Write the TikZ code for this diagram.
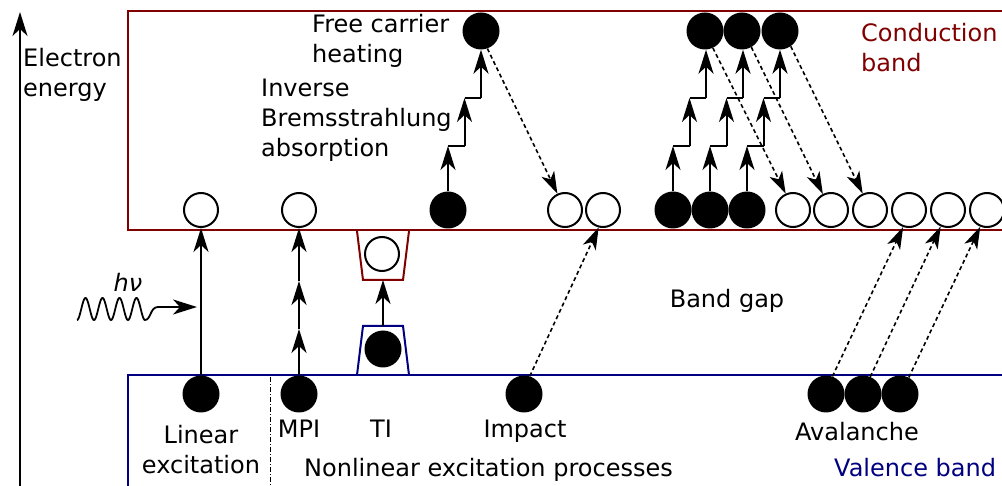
\documentclass[tikz,border=0pt]{standalone}
\usepackage{fontspec}
\setmainfont{DejaVu Sans}
\usetikzlibrary{arrows.meta,calc}
\definecolor{cbred}{RGB}{128,0,0}
\definecolor{vbblue}{RGB}{0,0,128}
\begin{document}
\begin{tikzpicture}[x=1pt,y=-1pt,
  every node/.style={font=\fontsize{24}{30}\selectfont, inner sep=0pt},
  fcirc/.style={circle, fill=black, minimum size=37pt, inner sep=0pt},
  ocirc/.style={circle, draw=black, line width=2pt, fill=white, minimum size=34pt, inner sep=0pt},
  tip/.style={-{Stealth[length=24pt,width=15pt,inset=7pt]}},
  arr/.style={line width=2pt, tip},
  seg/.style={line width=2pt},
  dasharr/.style={line width=1.6pt, dash pattern=on 4pt off 3pt, -{Stealth[length=22pt,width=14pt,inset=6pt]}},
  band/.style={line width=2.5pt}
]
\useasboundingbox (0,0) rectangle (1002,486);

% axis
\coordinate (axb) at (20,486);
\coordinate (axt) at (20,12);
\draw[line width=1.6pt, tip] (axb) -- (axt);
\node[anchor=base west, align=left] (ee) at (23,97) {Electron\\energy};

% bands
\draw[band, cbred] (1010,11) -- (128,11) -- (128,230) -- (1010,230);
\draw[band, vbblue] (1010,375) -- (128,375) -- (128,500);
\draw[line width=1pt, dash pattern=on 5pt off 2pt on 1pt off 2pt] (270,377) -- (270,486);

% TI trapezoids
\draw[line width=2pt, vbblue] (357,375) -- (363,326) -- (403,326) -- (409,375);
\draw[line width=2pt, cbred] (357,231) -- (363,280) -- (403,280) -- (409,231);
\coordinate (bt) at (383,326);
\coordinate (rt) at (383,280);

% conduction band circles
\node[ocirc] (o1) at (201,210) {};
\node[ocirc] (o2) at (299,210) {};
\node[fcirc] (f1) at (448,210) {};
\node[ocirc] (o3) at (565,210) {};
\node[ocirc] (o4) at (603,210) {};
\node[fcirc] (f2) at (673,210) {};
\node[fcirc] (f3) at (710,210) {};
\node[fcirc] (f4) at (747,210) {};
\node[ocirc] (o5) at (793,210) {};
\node[ocirc] (o6) at (831,210) {};
\node[ocirc] (o7) at (870,210) {};
\node[ocirc] (o8) at (909,210) {};
\node[ocirc] (o9) at (948,210) {};
\node[ocirc] (o10) at (987,210) {};
\node[fcirc] (t0) at (481,31) {};
\node[fcirc] (t1) at (705,31) {};
\node[fcirc] (t2) at (742,31) {};
\node[fcirc] (t3) at (780,31) {};
\node[ocirc] (tio) at (382,254) {};

% valence band circles
\node[fcirc] (v1) at (201,394) {};
\node[fcirc] (v2) at (299,394) {};
\node[fcirc] (tif) at (383,349) {};
\node[fcirc] (v3) at (524,394) {};
\node[fcirc] (v4) at (826,394) {};
\node[fcirc] (v5) at (863,394) {};
\node[fcirc] (v6) at (900,394) {};

% linear excitation
\draw[arr] (v1.north) -- (o1.south);
% photon
\coordinate (hvtip) at (197,307);
\draw[line width=1.8pt, tip]
  plot[domain=0:4, samples=160, smooth, variable=\t] ({77+17*\t},{309+11*cos(360*\t)})
  .. controls (151,320) and (150,307) .. (158,307) -- (hvtip);
\node[anchor=base, font=\fontsize{24}{30}\selectfont\itshape] (hv) at (128,292) {hν};

% MPI
\coordinate (m1) at (299,329);
\coordinate (m2) at (299,281);
\draw[arr] (v2.north) -- (m1);
\draw[arr] (m1) -- (m2);
\draw[arr] (m2) -- (o2.south);

% TI
\draw[arr] (bt) -- (rt);

% inverse bremsstrahlung staircases
\foreach \f/\t/\x in {f1/t0/448, f2/t1/673, f3/t2/710, f4/t3/747}{
  \coordinate (a) at (\x,146);
  \coordinate (b) at (\x+16.5,146);
  \coordinate (c) at (\x+16.5,98);
  \coordinate (d) at (\x+33,98);
  \draw[arr] (\f.north) -- (a);
  \draw[seg] (a) -- (b);
  \draw[arr] (b) -- (c);
  \draw[seg] (c) -- (d);
  \draw[arr] (d) -- (d|-\t.south);
}

% relaxation (dashed down)
\draw[dasharr] (t0.-70) -- (o3.115);
\draw[dasharr] (t1.-65) -- (o5.114);
\draw[dasharr] (t2.-60) -- (o6.117);
\draw[dasharr] (t3.-55) -- (o7.114);

% impact / avalanche (dashed up)
\draw[dasharr] (v3.72) -- (o4.-104);
\draw[dasharr] (v4.70) -- (o8.-109);
\draw[dasharr] (v5.67) -- (o9.-114);
\draw[dasharr] (v6.62) -- (o10.-112);

% labels
\node[anchor=base west, align=left] (fch) at (312,63) {Free carrier\\heating};
\node[anchor=base west, align=left] (iba) at (261,157) {Inverse\\Bremsstrahlung\\absorption};
\node[anchor=base west, align=left, text=cbred] (cb) at (861,72) {Conduction\\band};
\node[anchor=base] (bg) at (727,308) {Band gap};
\node[anchor=base, align=center] (lin) at (201,473) {Linear\\excitation};
\node[anchor=base] (mpi) at (299,437) {MPI};
\node[anchor=base] (ti) at (381,437) {TI};
\node[anchor=base] (imp) at (525,438) {Impact};
\node[anchor=base] (ava) at (857,440) {Avalanche};
\node[anchor=base west] (nl) at (304,476) {Nonlinear excitation processes};
\node[anchor=base west, text=vbblue] (vb) at (834,476) {Valence band};
\end{tikzpicture}
\end{document}
